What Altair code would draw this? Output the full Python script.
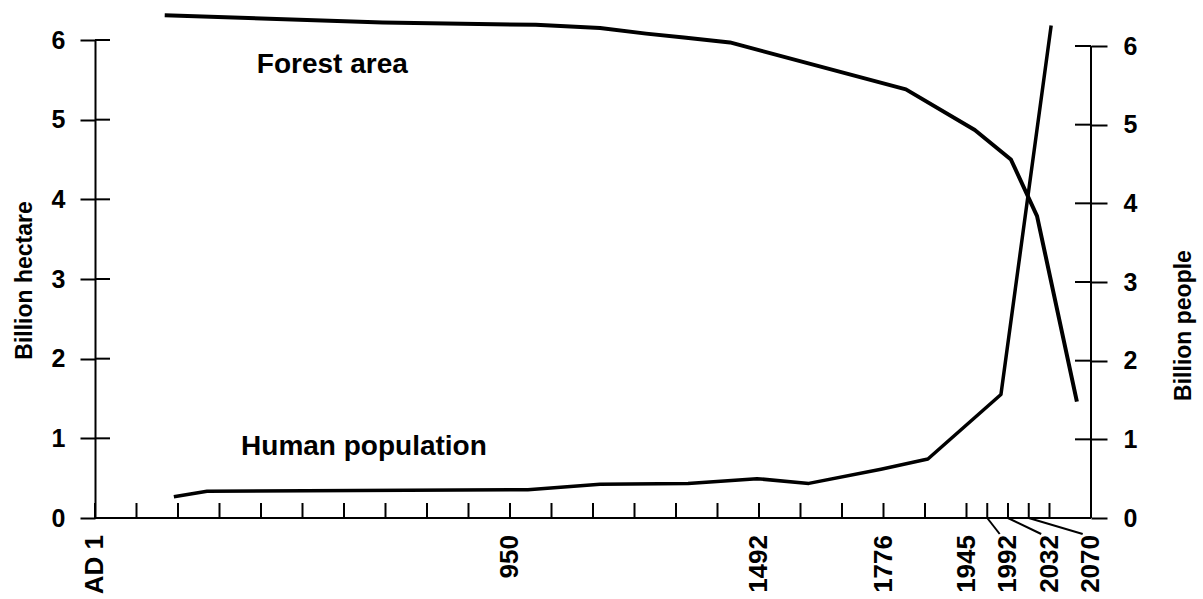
import altair as alt
import pandas as pd

# Horizontal positions are tick units: AD 1 sits at 0, each regular tick is one
# unit, and the right-hand axis stands at 24.
forest_x = [1.68, 6.93, 10.62, 12.17, 13.28, 14.19, 15.30, 19.54, 21.20, 22.07, 22.70, 23.66]
forest_area = [6.31, 6.22, 6.19, 6.15, 6.08, 6.03, 5.97, 5.38, 4.87, 4.50, 3.79, 1.46]  # billion ha

pop_x = [1.90, 2.70, 10.43, 12.17, 14.29, 15.95, 17.20, 18.94, 20.07, 21.83, 23.04]
population = [0.27, 0.34, 0.36, 0.43, 0.44, 0.50, 0.44, 0.62, 0.75, 1.57, 6.26]  # billion people

x_ticks = list(range(0, 22)) + [21.5, 22, 22.5, 23]
x_span = [0, 24]
year_labels = ["AD 1", "950", "1492", "1776", "1945", "1992", "2032", "2070"]
year_label_pos = [0, 10, 16, 19, 21, 22, 23, 24]
year_tick_pos = [0, 10, 16, 19, 21, 21.5, 22, 22.5]

left_ticks = [0, 1, 2, 3, 4, 5, 6]
right_ticks = [0, 1, 2, 3, 4, 5, 6]

series_names = ["Forest area", "Human population"]
series_name_x = [3.9, 3.52]
series_name_y = [5.586, 0.79]

W, H = 996, 478
FONT = "Liberation Sans"

forest_df = pd.DataFrame({"x": forest_x, "v": forest_area})
pop_df = pd.DataFrame({"x": pop_x, "v": population})
xtick_df = pd.DataFrame({"x": x_ticks})
base_df = pd.DataFrame({"lo": [x_span[0]], "hi": [x_span[1]]})
year_df = pd.DataFrame({"label": year_labels, "pos": year_label_pos, "tick": year_tick_pos})
year_df["end"] = year_df["pos"] - 0.2
leader_df = year_df[year_df["tick"] != year_df["pos"]]
lt_df = pd.DataFrame({"v": left_ticks})
rt_df = pd.DataFrame({"v": right_ticks})
names_df = pd.DataFrame({"name": series_names, "x": series_name_x, "v": series_name_y})
raxis_df = pd.DataFrame({"lo": [0], "hi": [6]})

xs = alt.Scale(domain=x_span, nice=False, zero=False)
left_s = alt.Scale(domain=[0, 6], nice=False)
right_s = alt.Scale(domain=[0, 6 * H / 472], nice=False)

forest = alt.Chart(forest_df).mark_line(color="black", strokeWidth=4, strokeJoin="round").encode(
    x=alt.X("x:Q", scale=xs, axis=None),
    y=alt.Y("v:Q", scale=left_s, axis=alt.Axis(
        values=left_ticks, grid=False, domainColor="black", domainWidth=2,
        tickColor="black", tickWidth=2, tickSize=15, labelPadding=15,
        labelFont=FONT, labelFontSize=25, labelFontWeight="bold", labelColor="black",
        title="Billion hectare", titleFont=FONT, titleFontSize=23, titleFontWeight="bold",
        titleColor="black", titleAngle=270, titleBaseline="alphabetic",
        titleX=-64, titleY=240)),
)

people = alt.Chart(pop_df).mark_line(color="black", strokeWidth=3.5, strokeJoin="round").encode(
    x=alt.X("x:Q", scale=xs, axis=None),
    y=alt.Y("v:Q", scale=right_s, axis=alt.Axis(
        orient="right", values=right_ticks, grid=False, domain=False,
        tickColor="black", tickWidth=2, tickSize=16, labelPadding=16,
        labelFont=FONT, labelFontSize=25, labelFontWeight="bold", labelColor="black",
        title="Billion people", titleFont=FONT, titleFontSize=23, titleFontWeight="bold",
        titleColor="black", titleAngle=270, titleBaseline="alphabetic",
        titleX=99, titleY=285)),
)

left_inner = alt.Chart(lt_df).mark_rule(color="black", strokeWidth=2).encode(
    y=alt.Y("v:Q", scale=left_s, axis=None), x=alt.value(0), x2=alt.value(15))

right_inner = alt.Chart(rt_df).mark_rule(color="black", strokeWidth=2).encode(
    y=alt.Y("v:Q", scale=right_s, axis=None), x=alt.value(W - 16), x2=alt.value(W))

right_line = alt.Chart(raxis_df).mark_rule(color="black", strokeWidth=2).encode(
    y=alt.Y("lo:Q", scale=right_s, axis=None), y2="hi:Q", x=alt.value(W))

baseline = alt.Chart(base_df).mark_rule(color="black", strokeWidth=2).encode(
    x=alt.X("lo:Q", scale=xs, axis=None), x2="hi:Q", y=alt.value(H))

xticks = alt.Chart(xtick_df).mark_rule(color="black", strokeWidth=2).encode(
    x=alt.X("x:Q", scale=xs, axis=None), y=alt.value(H), y2=alt.value(H - 15))

year_text = alt.Chart(year_df).mark_text(
    angle=270, align="right", baseline="middle", font=FONT, fontSize=26,
    fontWeight="bold", color="black").encode(
    x=alt.X("pos:Q", scale=xs, axis=None), y=alt.value(H + 17), text="label:N")

leaders = alt.Chart(leader_df).mark_rule(color="black", strokeWidth=2).encode(
    x=alt.X("tick:Q", scale=xs, axis=None), x2="end:Q",
    y=alt.value(H), y2=alt.value(H + 16))

names = alt.Chart(names_df).mark_text(
    align="left", baseline="alphabetic", font=FONT, fontSize=28,
    fontWeight="bold", color="black").encode(
    x=alt.X("x:Q", scale=xs, axis=None),
    y=alt.Y("v:Q", scale=left_s, axis=None), text="name:N")

chart = alt.layer(
    forest, people, left_inner, right_inner, right_line, baseline, xticks,
    year_text, leaders, names
).resolve_scale(y="independent").properties(
    width=W, height=H,
    padding={"left": 95, "top": 40, "right": 112, "bottom": 81},
    autosize=alt.AutoSizeParams(type="none"),
    background="white",
).configure_view(stroke=None)

chart.save("out.html", embed_options={"renderer": "svg", "actions": False})
